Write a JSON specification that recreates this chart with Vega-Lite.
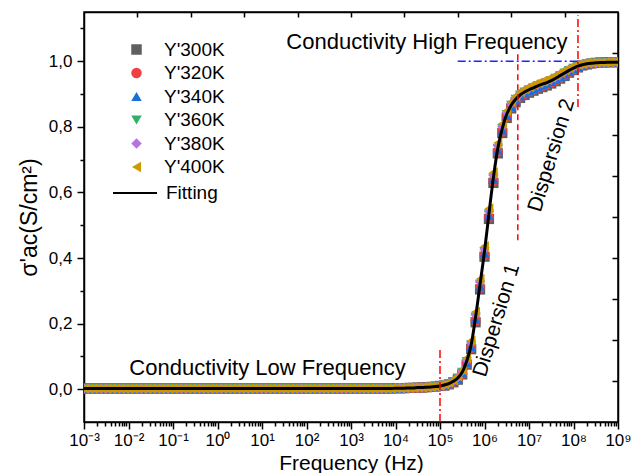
{
  "$schema": "https://vega.github.io/schema/vega-lite/v6.json",
  "width": 534,
  "height": 410,
  "autosize": "none",
  "padding": {"left": 84, "top": 12, "right": 15, "bottom": 51},
  "background": "white",
  "config": {
    "view": {"stroke": "black", "strokeWidth": 1.5},
    "font": "Liberation Sans",
    "axis": {"domainColor": "black", "domainWidth": 1.5, "tickColor": "black", "tickWidth": 1.5, "labelColor": "black", "titleColor": "black", "labelFont": "Liberation Sans", "titleFont": "Liberation Sans", "grid": false, "labelFontSize": 17, "titleFontWeight": "normal"},
    "legend": {"labelFont": "Liberation Sans", "labelFontSize": 19, "labelColor": "black", "padding": 0}
  },
  "data": {"values": [
    {"f":1e-3,"T300":0.002,"T320":0.002,"T340":0.002,"T360":0.002,"T380":0.002,"T400":0.002,"fit":0.002},
    {"f":1.259e-3,"T300":0.002,"T320":0.002,"T340":0.002,"T360":0.002,"T380":0.002,"T400":0.002,"fit":0.002},
    {"f":1.585e-3,"T300":0.002,"T320":0.002,"T340":0.002,"T360":0.002,"T380":0.002,"T400":0.002,"fit":0.002},
    {"f":1.995e-3,"T300":0.002,"T320":0.002,"T340":0.002,"T360":0.002,"T380":0.002,"T400":0.002,"fit":0.002},
    {"f":2.512e-3,"T300":0.002,"T320":0.002,"T340":0.002,"T360":0.002,"T380":0.002,"T400":0.002,"fit":0.002},
    {"f":3.162e-3,"T300":0.002,"T320":0.002,"T340":0.002,"T360":0.002,"T380":0.002,"T400":0.002,"fit":0.002},
    {"f":3.981e-3,"T300":0.002,"T320":0.002,"T340":0.002,"T360":0.002,"T380":0.002,"T400":0.002,"fit":0.002},
    {"f":5.012e-3,"T300":0.002,"T320":0.002,"T340":0.002,"T360":0.002,"T380":0.002,"T400":0.002,"fit":0.002},
    {"f":6.31e-3,"T300":0.002,"T320":0.002,"T340":0.002,"T360":0.002,"T380":0.002,"T400":0.002,"fit":0.002},
    {"f":7.943e-3,"T300":0.002,"T320":0.002,"T340":0.002,"T360":0.002,"T380":0.002,"T400":0.002,"fit":0.002},
    {"f":1e-2,"T300":0.002,"T320":0.002,"T340":0.002,"T360":0.002,"T380":0.002,"T400":0.002,"fit":0.002},
    {"f":1.259e-2,"T300":0.002,"T320":0.002,"T340":0.002,"T360":0.002,"T380":0.002,"T400":0.002,"fit":0.002},
    {"f":1.585e-2,"T300":0.002,"T320":0.002,"T340":0.002,"T360":0.002,"T380":0.002,"T400":0.002,"fit":0.002},
    {"f":1.995e-2,"T300":0.002,"T320":0.002,"T340":0.002,"T360":0.002,"T380":0.002,"T400":0.002,"fit":0.002},
    {"f":2.512e-2,"T300":0.002,"T320":0.002,"T340":0.002,"T360":0.002,"T380":0.002,"T400":0.002,"fit":0.002},
    {"f":3.162e-2,"T300":0.002,"T320":0.002,"T340":0.002,"T360":0.002,"T380":0.002,"T400":0.002,"fit":0.002},
    {"f":3.981e-2,"T300":0.002,"T320":0.002,"T340":0.002,"T360":0.002,"T380":0.002,"T400":0.002,"fit":0.002},
    {"f":5.012e-2,"T300":0.002,"T320":0.002,"T340":0.002,"T360":0.002,"T380":0.002,"T400":0.002,"fit":0.002},
    {"f":6.31e-2,"T300":0.002,"T320":0.002,"T340":0.002,"T360":0.002,"T380":0.002,"T400":0.002,"fit":0.002},
    {"f":7.943e-2,"T300":0.002,"T320":0.002,"T340":0.002,"T360":0.002,"T380":0.002,"T400":0.002,"fit":0.002},
    {"f":1e-1,"T300":0.002,"T320":0.002,"T340":0.002,"T360":0.002,"T380":0.002,"T400":0.002,"fit":0.002},
    {"f":1.259e-1,"T300":0.002,"T320":0.002,"T340":0.002,"T360":0.002,"T380":0.002,"T400":0.002,"fit":0.002},
    {"f":1.585e-1,"T300":0.002,"T320":0.002,"T340":0.002,"T360":0.002,"T380":0.002,"T400":0.002,"fit":0.002},
    {"f":1.995e-1,"T300":0.002,"T320":0.002,"T340":0.002,"T360":0.002,"T380":0.002,"T400":0.002,"fit":0.002},
    {"f":2.512e-1,"T300":0.002,"T320":0.002,"T340":0.002,"T360":0.002,"T380":0.002,"T400":0.002,"fit":0.002},
    {"f":3.162e-1,"T300":0.002,"T320":0.002,"T340":0.002,"T360":0.002,"T380":0.002,"T400":0.002,"fit":0.002},
    {"f":3.981e-1,"T300":0.002,"T320":0.002,"T340":0.002,"T360":0.002,"T380":0.002,"T400":0.002,"fit":0.002},
    {"f":5.012e-1,"T300":0.002,"T320":0.002,"T340":0.002,"T360":0.002,"T380":0.002,"T400":0.002,"fit":0.002},
    {"f":6.31e-1,"T300":0.002,"T320":0.002,"T340":0.002,"T360":0.002,"T380":0.002,"T400":0.002,"fit":0.002},
    {"f":7.943e-1,"T300":0.002,"T320":0.002,"T340":0.002,"T360":0.002,"T380":0.002,"T400":0.002,"fit":0.002},
    {"f":1,"T300":0.002,"T320":0.002,"T340":0.002,"T360":0.002,"T380":0.002,"T400":0.002,"fit":0.002},
    {"f":1.259,"T300":0.002,"T320":0.002,"T340":0.002,"T360":0.002,"T380":0.002,"T400":0.002,"fit":0.002},
    {"f":1.585,"T300":0.002,"T320":0.002,"T340":0.002,"T360":0.002,"T380":0.002,"T400":0.002,"fit":0.002},
    {"f":1.995,"T300":0.002,"T320":0.002,"T340":0.002,"T360":0.002,"T380":0.002,"T400":0.002,"fit":0.002},
    {"f":2.512,"T300":0.002,"T320":0.002,"T340":0.002,"T360":0.002,"T380":0.002,"T400":0.002,"fit":0.002},
    {"f":3.162,"T300":0.002,"T320":0.002,"T340":0.002,"T360":0.002,"T380":0.002,"T400":0.002,"fit":0.002},
    {"f":3.981,"T300":0.002,"T320":0.002,"T340":0.002,"T360":0.002,"T380":0.002,"T400":0.002,"fit":0.002},
    {"f":5.012,"T300":0.002,"T320":0.002,"T340":0.002,"T360":0.002,"T380":0.002,"T400":0.002,"fit":0.002},
    {"f":6.31,"T300":0.002,"T320":0.002,"T340":0.002,"T360":0.002,"T380":0.002,"T400":0.002,"fit":0.002},
    {"f":7.943,"T300":0.002,"T320":0.002,"T340":0.002,"T360":0.002,"T380":0.002,"T400":0.002,"fit":0.002},
    {"f":1e1,"T300":0.002,"T320":0.002,"T340":0.002,"T360":0.002,"T380":0.002,"T400":0.002,"fit":0.002},
    {"f":1.259e1,"T300":0.002,"T320":0.002,"T340":0.002,"T360":0.002,"T380":0.002,"T400":0.002,"fit":0.002},
    {"f":1.585e1,"T300":0.002,"T320":0.002,"T340":0.002,"T360":0.002,"T380":0.002,"T400":0.002,"fit":0.002},
    {"f":1.995e1,"T300":0.002,"T320":0.002,"T340":0.002,"T360":0.002,"T380":0.002,"T400":0.002,"fit":0.002},
    {"f":2.512e1,"T300":0.002,"T320":0.002,"T340":0.002,"T360":0.002,"T380":0.002,"T400":0.002,"fit":0.002},
    {"f":3.162e1,"T300":0.002,"T320":0.002,"T340":0.002,"T360":0.002,"T380":0.002,"T400":0.002,"fit":0.002},
    {"f":3.981e1,"T300":0.002,"T320":0.002,"T340":0.002,"T360":0.002,"T380":0.002,"T400":0.002,"fit":0.002},
    {"f":5.012e1,"T300":0.002,"T320":0.002,"T340":0.002,"T360":0.002,"T380":0.002,"T400":0.002,"fit":0.002},
    {"f":6.31e1,"T300":0.002,"T320":0.002,"T340":0.002,"T360":0.002,"T380":0.002,"T400":0.002,"fit":0.002},
    {"f":7.943e1,"T300":0.002,"T320":0.002,"T340":0.002,"T360":0.002,"T380":0.002,"T400":0.002,"fit":0.002},
    {"f":1e2,"T300":0.002,"T320":0.002,"T340":0.002,"T360":0.002,"T380":0.002,"T400":0.002,"fit":0.002},
    {"f":1.259e2,"T300":0.002,"T320":0.002,"T340":0.002,"T360":0.002,"T380":0.002,"T400":0.002,"fit":0.002},
    {"f":1.585e2,"T300":0.002,"T320":0.002,"T340":0.002,"T360":0.002,"T380":0.002,"T400":0.002,"fit":0.002},
    {"f":1.995e2,"T300":0.002,"T320":0.002,"T340":0.002,"T360":0.002,"T380":0.002,"T400":0.002,"fit":0.002},
    {"f":2.512e2,"T300":0.002,"T320":0.002,"T340":0.002,"T360":0.002,"T380":0.002,"T400":0.002,"fit":0.002},
    {"f":3.162e2,"T300":0.002,"T320":0.002,"T340":0.002,"T360":0.002,"T380":0.002,"T400":0.002,"fit":0.002},
    {"f":3.981e2,"T300":0.002,"T320":0.002,"T340":0.002,"T360":0.002,"T380":0.002,"T400":0.002,"fit":0.002},
    {"f":5.012e2,"T300":0.002,"T320":0.002,"T340":0.002,"T360":0.002,"T380":0.002,"T400":0.002,"fit":0.002},
    {"f":6.31e2,"T300":0.002,"T320":0.002,"T340":0.002,"T360":0.002,"T380":0.002,"T400":0.002,"fit":0.002},
    {"f":7.943e2,"T300":0.002,"T320":0.002,"T340":0.002,"T360":0.002,"T380":0.002,"T400":0.002,"fit":0.002},
    {"f":1e3,"T300":0.002,"T320":0.002,"T340":0.002,"T360":0.002,"T380":0.002,"T400":0.002,"fit":0.002},
    {"f":1.259e3,"T300":0.002,"T320":0.002,"T340":0.002,"T360":0.002,"T380":0.002,"T400":0.002,"fit":0.002},
    {"f":1.585e3,"T300":0.002,"T320":0.002,"T340":0.002,"T360":0.002,"T380":0.002,"T400":0.002,"fit":0.002},
    {"f":1.995e3,"T300":0.002,"T320":0.002,"T340":0.002,"T360":0.002,"T380":0.002,"T400":0.002,"fit":0.002},
    {"f":2.512e3,"T300":0.002,"T320":0.002,"T340":0.002,"T360":0.002,"T380":0.002,"T400":0.002,"fit":0.002},
    {"f":3.162e3,"T300":0.002,"T320":0.002,"T340":0.002,"T360":0.002,"T380":0.002,"T400":0.002,"fit":0.002},
    {"f":3.981e3,"T300":0.002,"T320":0.002,"T340":0.002,"T360":0.002,"T380":0.002,"T400":0.002,"fit":0.002},
    {"f":5.012e3,"T300":0.002,"T320":0.002,"T340":0.002,"T360":0.002,"T380":0.002,"T400":0.002,"fit":0.002},
    {"f":6.31e3,"T300":0.002,"T320":0.002,"T340":0.002,"T360":0.002,"T380":0.002,"T400":0.002,"fit":0.002},
    {"f":7.943e3,"T300":0.002,"T320":0.002,"T340":0.002,"T360":0.002,"T380":0.002,"T400":0.002,"fit":0.002},
    {"f":1e4,"T300":0.003,"T320":0.003,"T340":0.003,"T360":0.003,"T380":0.003,"T400":0.003,"fit":0.003},
    {"f":1.259e4,"T300":0.003,"T320":0.003,"T340":0.003,"T360":0.003,"T380":0.003,"T400":0.003,"fit":0.003},
    {"f":1.585e4,"T300":0.003,"T320":0.003,"T340":0.003,"T360":0.003,"T380":0.003,"T400":0.003,"fit":0.003},
    {"f":1.995e4,"T300":0.004,"T320":0.004,"T340":0.004,"T360":0.004,"T380":0.004,"T400":0.004,"fit":0.004},
    {"f":2.512e4,"T300":0.004,"T320":0.004,"T340":0.004,"T360":0.004,"T380":0.004,"T400":0.004,"fit":0.004},
    {"f":3.162e4,"T300":0.005,"T320":0.005,"T340":0.005,"T360":0.005,"T380":0.005,"T400":0.005,"fit":0.005},
    {"f":3.981e4,"T300":0.005,"T320":0.005,"T340":0.005,"T360":0.005,"T380":0.005,"T400":0.005,"fit":0.005},
    {"f":5.012e4,"T300":0.006,"T320":0.006,"T340":0.006,"T360":0.006,"T380":0.006,"T400":0.006,"fit":0.006},
    {"f":6.31e4,"T300":0.007,"T320":0.007,"T340":0.007,"T360":0.007,"T380":0.007,"T400":0.007,"fit":0.007},
    {"f":7.943e4,"T300":0.008,"T320":0.008,"T340":0.008,"T360":0.008,"T380":0.008,"T400":0.008,"fit":0.008},
    {"f":1e5,"T300":0.010,"T320":0.010,"T340":0.010,"T360":0.010,"T380":0.010,"T400":0.010,"fit":0.010},
    {"f":1.259e5,"T300":0.011,"T320":0.012,"T340":0.012,"T360":0.013,"T380":0.014,"T400":0.015,"fit":0.013},
    {"f":1.585e5,"T300":0.015,"T320":0.015,"T340":0.016,"T360":0.017,"T380":0.018,"T400":0.019,"fit":0.017},
    {"f":1.995e5,"T300":0.021,"T320":0.022,"T340":0.023,"T360":0.024,"T380":0.025,"T400":0.027,"fit":0.024},
    {"f":2.512e5,"T300":0.029,"T320":0.031,"T340":0.032,"T360":0.034,"T380":0.036,"T400":0.039,"fit":0.034},
    {"f":3.162e5,"T300":0.045,"T320":0.047,"T340":0.049,"T360":0.052,"T380":0.055,"T400":0.059,"fit":0.052},
    {"f":3.981e5,"T300":0.075,"T320":0.078,"T340":0.081,"T360":0.085,"T380":0.089,"T400":0.095,"fit":0.085},
    {"f":5.012e5,"T300":0.122,"T320":0.126,"T340":0.130,"T360":0.135,"T380":0.141,"T400":0.148,"fit":0.135},
    {"f":6.31e5,"T300":0.204,"T320":0.209,"T340":0.214,"T360":0.220,"T380":0.227,"T400":0.236,"fit":0.220},
    {"f":7.943e5,"T300":0.304,"T320":0.309,"T340":0.314,"T360":0.320,"T380":0.327,"T400":0.336,"fit":0.320},
    {"f":1e6,"T300":0.404,"T320":0.409,"T340":0.414,"T360":0.420,"T380":0.427,"T400":0.436,"fit":0.420},
    {"f":1.259e6,"T300":0.519,"T320":0.524,"T340":0.529,"T360":0.535,"T380":0.542,"T400":0.551,"fit":0.535},
    {"f":1.585e6,"T300":0.629,"T320":0.634,"T340":0.639,"T360":0.645,"T380":0.652,"T400":0.661,"fit":0.645},
    {"f":1.995e6,"T300":0.719,"T320":0.724,"T340":0.729,"T360":0.735,"T380":0.742,"T400":0.751,"fit":0.735},
    {"f":2.512e6,"T300":0.781,"T320":0.786,"T340":0.790,"T360":0.795,"T380":0.801,"T400":0.809,"fit":0.795},
    {"f":3.162e6,"T300":0.827,"T320":0.830,"T340":0.834,"T360":0.838,"T380":0.843,"T400":0.849,"fit":0.838},
    {"f":3.981e6,"T300":0.856,"T320":0.859,"T340":0.862,"T360":0.866,"T380":0.870,"T400":0.876,"fit":0.866},
    {"f":5.012e6,"T300":0.875,"T320":0.878,"T340":0.881,"T360":0.884,"T380":0.888,"T400":0.893,"fit":0.884},
    {"f":6.31e6,"T300":0.888,"T320":0.891,"T340":0.894,"T360":0.897,"T380":0.901,"T400":0.906,"fit":0.897},
    {"f":7.943e6,"T300":0.897,"T320":0.900,"T340":0.903,"T360":0.906,"T380":0.910,"T400":0.915,"fit":0.906},
    {"f":1e7,"T300":0.904,"T320":0.907,"T340":0.910,"T360":0.913,"T380":0.917,"T400":0.922,"fit":0.913},
    {"f":1.259e7,"T300":0.910,"T320":0.913,"T340":0.916,"T360":0.919,"T380":0.923,"T400":0.928,"fit":0.919},
    {"f":1.585e7,"T300":0.916,"T320":0.919,"T340":0.922,"T360":0.925,"T380":0.929,"T400":0.934,"fit":0.925},
    {"f":1.995e7,"T300":0.921,"T320":0.924,"T340":0.927,"T360":0.930,"T380":0.934,"T400":0.939,"fit":0.930},
    {"f":2.512e7,"T300":0.926,"T320":0.929,"T340":0.932,"T360":0.935,"T380":0.939,"T400":0.944,"fit":0.935},
    {"f":3.162e7,"T300":0.932,"T320":0.935,"T340":0.938,"T360":0.941,"T380":0.945,"T400":0.950,"fit":0.941},
    {"f":3.981e7,"T300":0.939,"T320":0.942,"T340":0.945,"T360":0.948,"T380":0.952,"T400":0.957,"fit":0.948},
    {"f":5.012e7,"T300":0.947,"T320":0.950,"T340":0.953,"T360":0.956,"T380":0.960,"T400":0.965,"fit":0.956},
    {"f":6.31e7,"T300":0.955,"T320":0.958,"T340":0.961,"T360":0.964,"T380":0.968,"T400":0.973,"fit":0.964},
    {"f":7.943e7,"T300":0.965,"T320":0.967,"T340":0.969,"T360":0.972,"T380":0.975,"T400":0.979,"fit":0.972},
    {"f":1e8,"T300":0.973,"T320":0.975,"T340":0.977,"T360":0.979,"T380":0.982,"T400":0.985,"fit":0.979},
    {"f":1.259e8,"T300":0.981,"T320":0.982,"T340":0.984,"T360":0.985,"T380":0.987,"T400":0.989,"fit":0.985},
    {"f":1.585e8,"T300":0.987,"T320":0.987,"T340":0.988,"T360":0.989,"T380":0.990,"T400":0.991,"fit":0.989},
    {"f":1.995e8,"T300":0.990,"T320":0.991,"T340":0.991,"T360":0.992,"T380":0.993,"T400":0.994,"fit":0.992},
    {"f":2.512e8,"T300":0.993,"T320":0.993,"T340":0.994,"T360":0.994,"T380":0.994,"T400":0.995,"fit":0.994},
    {"f":3.162e8,"T300":0.995,"T320":0.995,"T340":0.995,"T360":0.995,"T380":0.995,"T400":0.995,"fit":0.995},
    {"f":3.981e8,"T300":0.996,"T320":0.996,"T340":0.996,"T360":0.996,"T380":0.996,"T400":0.996,"fit":0.996},
    {"f":5.012e8,"T300":0.996,"T320":0.996,"T340":0.996,"T360":0.996,"T380":0.996,"T400":0.996,"fit":0.996},
    {"f":6.31e8,"T300":0.997,"T320":0.997,"T340":0.997,"T360":0.997,"T380":0.997,"T400":0.997,"fit":0.997},
    {"f":7.943e8,"T300":0.997,"T320":0.997,"T340":0.997,"T360":0.997,"T380":0.997,"T400":0.997,"fit":0.997},
    {"f":1e9,"T300":0.997,"T320":0.997,"T340":0.997,"T360":0.997,"T380":0.997,"T400":0.997,"fit":0.997}
  ]},
  "layer": [
    {
      "transform": [{"fold": ["T300", "T320", "T340", "T360", "T380", "T400"], "as": ["series", "value"]}],
      "mark": {"type": "point", "filled": true, "size": 105, "opacity": 1, "strokeWidth": 0, "clip": true},
      "encoding": {
        "x": {"field": "f", "type": "quantitative", "scale": {"type": "log", "domain": [0.001, 1e9], "nice": false},
          "axis": {"orient": "bottom", "values": [0.001, 0.01, 0.1, 1, 10, 100, 1000, 1e4, 1e5, 1e6, 1e7, 1e8, 1e9],
            "labelExpr": "'10' + ['⁻³','⁻²','⁻¹','⁰','¹','²','³','⁴','⁵','⁶','⁷','⁸','⁹'][round(log(datum.value)/LN10)+3]",
            "tickSize": 7, "labelPadding": 3, "labelFlush": false, "labelOverlap": false,
            "title": "Frequency (Hz)", "titleFontSize": 21, "titlePadding": 4}},
        "y": {"field": "value", "type": "quantitative", "scale": {"domain": [-0.1, 1.15], "nice": false, "zero": false},
          "axis": {"orient": "left", "values": [0, 0.2, 0.4, 0.6, 0.8, 1.0],
            "labelExpr": "replace(format(datum.value, '.1f'), '.', ',')",
            "tickSize": 7, "labelPadding": 5, "labelFlush": false,
            "title": "σ'ac(S/cm²)", "titleFontSize": 23, "titlePadding": 7}},
        "fill": {"field": "series", "type": "nominal",
          "scale": {"domain": ["T300", "T320", "T340", "T360", "T380", "T400"], "range": ["#5f5f5f", "#F14040", "#1A6FDF", "#37AD6B", "#B177DE", "#CC9900"]},
          "legend": {"title": null, "orient": "none", "legendX": 43, "legendY": 28, "labelOffset": 18, "rowPadding": 3.5, "symbolSize": 110, "symbolStrokeWidth": 0, "labelExpr": "\"Y'\" + substring(datum.label, 1) + \"K\""}},
        "shape": {"field": "series", "type": "nominal",
          "scale": {"domain": ["T300", "T320", "T340", "T360", "T380", "T400"], "range": ["square", "circle", "triangle-up", "triangle-down", "diamond", "triangle-left"]},
          "legend": {"title": null, "orient": "none", "legendX": 43, "legendY": 28, "labelOffset": 18, "rowPadding": 3.5, "symbolSize": 110, "symbolStrokeWidth": 0, "labelExpr": "\"Y'\" + substring(datum.label, 1) + \"K\""}},
        "order": {"field": "series", "type": "ordinal"}
      }
    },
    {
      "mark": {"type": "line", "strokeWidth": 3, "clip": true, "interpolate": "monotone"},
      "encoding": {
        "x": {"field": "f", "type": "quantitative", "scale": {"type": "log", "domain": [0.001, 1e9], "nice": false},
          "axis": {"orient": "bottom", "labels": false, "domain": false, "tickSize": 4, "title": null,
            "values": [2e-3,3e-3,4e-3,5e-3,6e-3,7e-3,8e-3,9e-3,2e-2,3e-2,4e-2,5e-2,6e-2,7e-2,8e-2,9e-2,2e-1,3e-1,4e-1,5e-1,6e-1,7e-1,8e-1,9e-1,2,3,4,5,6,7,8,9,20,30,40,50,60,70,80,90,200,300,400,500,600,700,800,900,2e3,3e3,4e3,5e3,6e3,7e3,8e3,9e3,2e4,3e4,4e4,5e4,6e4,7e4,8e4,9e4,2e5,3e5,4e5,5e5,6e5,7e5,8e5,9e5,2e6,3e6,4e6,5e6,6e6,7e6,8e6,9e6,2e7,3e7,4e7,5e7,6e7,7e7,8e7,9e7,2e8,3e8,4e8,5e8,6e8,7e8,8e8,9e8]}},
        "y": {"field": "fit", "type": "quantitative", "scale": {"domain": [-0.1, 1.15], "nice": false, "zero": false},
          "axis": {"orient": "left", "labels": false, "domain": false, "tickSize": 4, "title": null, "values": [0.1, 0.3, 0.5, 0.7, 0.9, 1.1]}},
        "stroke": {"datum": "Fitting", "type": "nominal", "scale": {"range": ["black"]},
          "legend": {"title": null, "orient": "none", "legendX": 28, "legendY": 158, "symbolType": "stroke", "symbolSize": 1936, "symbolStrokeWidth": 2, "labelOffset": 8}}
      }
    },
    {
      "data": {"values": [
        {"x": 5.1e4, "y": 1.058, "label": "Conductivity High Frequency"},
        {"x": 13.3, "y": 0.064, "label": "Conductivity Low Frequency"}
      ]},
      "mark": {"type": "text", "fontSize": 22, "font": "Liberation Sans", "color": "black", "align": "center", "baseline": "middle"},
      "encoding": {
        "x": {"field": "x", "type": "quantitative", "scale": {"type": "log", "domain": [0.001, 1e9], "nice": false},
          "axis": {"orient": "top", "labels": false, "domain": true, "tickSize": -5, "title": null,
            "values": [0.01585, 0.2512, 3.981, 63.1, 1000, 15849, 251189, 3981072, 63095734]}},
        "y": {"field": "y", "type": "quantitative", "scale": {"domain": [-0.1, 1.15], "nice": false, "zero": false},
          "axis": {"orient": "right", "labels": false, "domain": true, "tickSize": -6, "title": null,
            "values": [0.025, 0.15, 0.275, 0.4, 0.525, 0.65, 0.775, 0.9, 1.025]}},
        "text": {"field": "label"}
      }
    },
    {
      "data": {"values": [
        {"x": 1.88e6, "y": 0.21, "label": "Dispersion 1"},
        {"x": 3.24e7, "y": 0.713, "label": "Dispersion 2"}
      ]},
      "mark": {"type": "text", "fontSize": 21, "font": "Liberation Sans", "color": "black", "align": "center", "baseline": "middle", "angle": 287},
      "encoding": {
        "x": {"field": "x", "type": "quantitative", "scale": {"type": "log", "domain": [0.001, 1e9], "nice": false}, "axis": null},
        "y": {"field": "y", "type": "quantitative", "scale": {"domain": [-0.1, 1.15], "nice": false, "zero": false}, "axis": null},
        "text": {"field": "label"}
      }
    },
    {
      "data": {"values": [
        {"x": 1e5, "y": -0.1, "y2": 0.125},
        {"x": 1.26e8, "y": 0.86, "y2": 1.14}
      ]},
      "mark": {"type": "rule", "color": "#ff0000", "strokeWidth": 1.5, "strokeDash": [8, 3, 2, 3]},
      "encoding": {
        "x": {"field": "x", "type": "quantitative", "scale": {"type": "log", "domain": [0.001, 1e9], "nice": false}, "axis": null},
        "y": {"field": "y", "type": "quantitative", "scale": {"domain": [-0.1, 1.15], "nice": false, "zero": false}, "axis": null},
        "y2": {"field": "y2"}
      }
    },
    {
      "data": {"values": [
        {"x": 5.6e6, "y": 0.454, "y2": 1.027}
      ]},
      "mark": {"type": "rule", "color": "#ff0000", "strokeWidth": 1.5, "strokeDash": [6, 4]},
      "encoding": {
        "x": {"field": "x", "type": "quantitative", "scale": {"type": "log", "domain": [0.001, 1e9], "nice": false}, "axis": null},
        "y": {"field": "y", "type": "quantitative", "scale": {"domain": [-0.1, 1.15], "nice": false, "zero": false}, "axis": null},
        "y2": {"field": "y2"}
      }
    },
    {
      "data": {"values": [
        {"x": 2.5e5, "x2": 1.26e8, "y": 1.0}
      ]},
      "mark": {"type": "rule", "color": "#1f1fff", "strokeWidth": 1.5, "strokeDash": [8, 3, 2, 3]},
      "encoding": {
        "x": {"field": "x", "type": "quantitative", "scale": {"type": "log", "domain": [0.001, 1e9], "nice": false}, "axis": null},
        "x2": {"field": "x2"},
        "y": {"field": "y", "type": "quantitative", "scale": {"domain": [-0.1, 1.15], "nice": false, "zero": false}, "axis": null}
      }
    }
  ],
  "resolve": {"axis": {"x": "independent", "y": "independent"}}
}
